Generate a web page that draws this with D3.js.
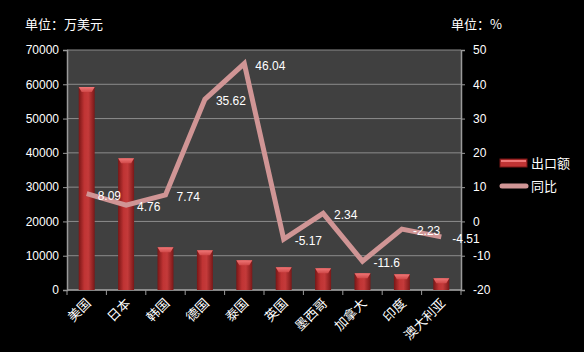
<!DOCTYPE html>
<html>
<head>
<meta charset="utf-8">
<script src="https://cdn.jsdelivr.net/npm/d3@7"></script>
<style>
  html, body { margin: 0; padding: 0; background: #000; }
  svg { display: block; }
  text { fill: #fff; }
  .cn { font-family: "Noto Sans CJK SC", sans-serif; }
  .num { font-family: "Liberation Sans", Arial, sans-serif; }
</style>
</head>
<body>
<svg id="chart" width="584" height="352"></svg>
<script>
// chart data
const countries = ['美国', '日本', '韩国', '德国', '泰国', '英国', '墨西哥', '加拿大', '印度', '澳大利亚'];
const exportValues = [59200, 38400, 12450, 11600, 8700, 6650, 6350, 4900, 4600, 3450];
const yoyValues = [8.09, 4.76, 7.74, 35.62, 46.04, -5.17, 2.34, -11.6, -2.23, -4.51];
const leftTicks = [0, 10000, 20000, 30000, 40000, 50000, 60000, 70000];
const rightTicks = [-20, -10, 0, 10, 20, 30, 40, 50];

const margin = { top: 50, right: 123, bottom: 62, left: 67 };
const width = 584 - margin.left - margin.right;
const height = 352 - margin.top - margin.bottom;

const svg = d3.select('#chart');

// gradients for the bars
const defs = svg.append('defs');
const barGrad = defs.append('linearGradient').attr('id', 'barGrad')
  .attr('x1', '0%').attr('x2', '100%').attr('y1', '0%').attr('y2', '0%');
barGrad.append('stop').attr('offset', '0%').attr('stop-color', '#7a1616');
barGrad.append('stop').attr('offset', '35%').attr('stop-color', '#c03434');
barGrad.append('stop').attr('offset', '60%').attr('stop-color', '#c43a3a');
barGrad.append('stop').attr('offset', '100%').attr('stop-color', '#7a1818');

const capGrad = defs.append('linearGradient').attr('id', 'capGrad')
  .attr('x1', '0%').attr('x2', '0%').attr('y1', '0%').attr('y2', '100%');
capGrad.append('stop').attr('offset', '0%').attr('stop-color', '#f07878');
capGrad.append('stop').attr('offset', '100%').attr('stop-color', '#d04848');

const chart = svg.append('g')
  .attr('transform', `translate(${margin.left},${margin.top})`);

// scales
const xScale = d3.scaleBand().domain(countries).range([0, width]);
const yLeft = d3.scaleLinear().domain([0, 70000]).range([height, 0]);
const yRight = d3.scaleLinear().domain([-20, 50]).range([height, 0]);

// plot background
chart.append('rect')
  .attr('width', width).attr('height', height)
  .attr('fill', '#404040');

// gridlines
chart.append('g')
  .selectAll('line')
  .data(leftTicks)
  .join('line')
  .attr('x1', 0).attr('x2', width)
  .attr('y1', (d) => yLeft(d)).attr('y2', (d) => yLeft(d))
  .attr('stroke', '#8c8c8c').attr('stroke-width', 1);

// axes (plain number format, ascii minus)
const axisColor = '#9a9a9a';
const leftAxisG = chart.append('g')
  .call(d3.axisLeft(yLeft).tickValues(leftTicks).tickFormat((d) => String(d)).tickSize(4).tickPadding(4));
const rightAxisG = chart.append('g')
  .attr('transform', `translate(${width},0)`)
  .call(d3.axisRight(yRight).tickValues(rightTicks).tickFormat((d) => String(d)).tickSize(4).tickPadding(8));
[leftAxisG, rightAxisG].forEach((g) => {
  g.select('.domain').attr('stroke', axisColor).attr('stroke-width', 1.5);
  g.selectAll('.tick line').attr('stroke', axisColor);
  g.selectAll('.tick text')
    .attr('class', 'num')
    .attr('font-size', 12)
    .attr('fill', '#fff');
});

// bottom axis with ticks at category boundaries
const xAxisG = chart.append('g').attr('transform', `translate(0,${height})`);
xAxisG.append('line')
  .attr('x1', 0).attr('x2', width)
  .attr('stroke', axisColor).attr('stroke-width', 1.5);
xAxisG.selectAll('.bound')
  .data(d3.range(countries.length + 1))
  .join('line')
  .attr('class', 'bound')
  .attr('x1', (i) => i * xScale.step()).attr('x2', (i) => i * xScale.step())
  .attr('y1', 0).attr('y2', 5)
  .attr('stroke', axisColor);
xAxisG.selectAll('.xlabel')
  .data(countries)
  .join('text')
  .attr('class', 'xlabel cn')
  .attr('font-size', 13)
  .attr('text-anchor', 'end')
  .attr('transform', (d) => `translate(${xScale(d) + xScale.bandwidth() / 2 + 5},${14}) rotate(-45)`)
  .text((d) => d);

// bars
const barW = 16;
const capH = 5;
const bars = chart.append('g')
  .selectAll('g')
  .data(countries)
  .join('g')
  .attr('transform', (d) => `translate(${xScale(d) + xScale.bandwidth() / 2 - barW / 2},0)`);

bars.append('rect')
  .attr('x', 0)
  .attr('y', (d, i) => yLeft(exportValues[i]))
  .attr('width', barW)
  .attr('height', (d, i) => height - yLeft(exportValues[i]))
  .attr('fill', 'url(#barGrad)');

bars.append('path')
  .attr('d', (d, i) => {
    const y = yLeft(exportValues[i]);
    return `M0,${y} L${barW},${y} L${barW - 3},${y + capH} L3,${y + capH} Z`;
  })
  .attr('fill', 'url(#capGrad)');

// year-on-year line
const line = d3.line()
  .x((d, i) => xScale(countries[i]) + xScale.bandwidth() / 2)
  .y((d) => yRight(d));

chart.append('path')
  .datum(yoyValues)
  .attr('d', line)
  .attr('fill', 'none')
  .attr('stroke', '#d09595')
  .attr('stroke-width', 5)
  .attr('stroke-linejoin', 'miter');

chart.append('g')
  .selectAll('text')
  .data(yoyValues)
  .join('text')
  .attr('class', 'num')
  .attr('font-size', 12)
  .attr('x', (d, i) => xScale(countries[i]) + xScale.bandwidth() / 2 + 11)
  .attr('y', (d) => yRight(d) + 6)
  .text((d) => d);

// unit titles
svg.append('text').attr('class', 'cn').attr('font-size', 13)
  .attr('x', 25).attr('y', 29).text('单位：万美元');
svg.append('text').attr('class', 'cn').attr('font-size', 13)
  .attr('x', 451).attr('y', 29).text('单位：%');

// legend
const legend = svg.append('g').attr('transform', 'translate(500,0)');
legend.append('rect')
  .attr('x', 0).attr('y', 159).attr('width', 27).attr('height', 8)
  .attr('fill', '#c03434').attr('stroke', '#7a1616');
legend.append('rect')
  .attr('x', 1).attr('y', 160).attr('width', 25).attr('height', 2)
  .attr('fill', '#f07878');
legend.append('text').attr('class', 'cn').attr('font-size', 13)
  .attr('x', 31).attr('y', 168).text('出口额');
legend.append('line')
  .attr('x1', 2).attr('x2', 26).attr('y1', 186).attr('y2', 186)
  .attr('stroke', '#d09595').attr('stroke-width', 5).attr('stroke-linecap', 'round');
legend.append('text').attr('class', 'cn').attr('font-size', 13)
  .attr('x', 31).attr('y', 191).text('同比');
</script>
</body>
</html>
